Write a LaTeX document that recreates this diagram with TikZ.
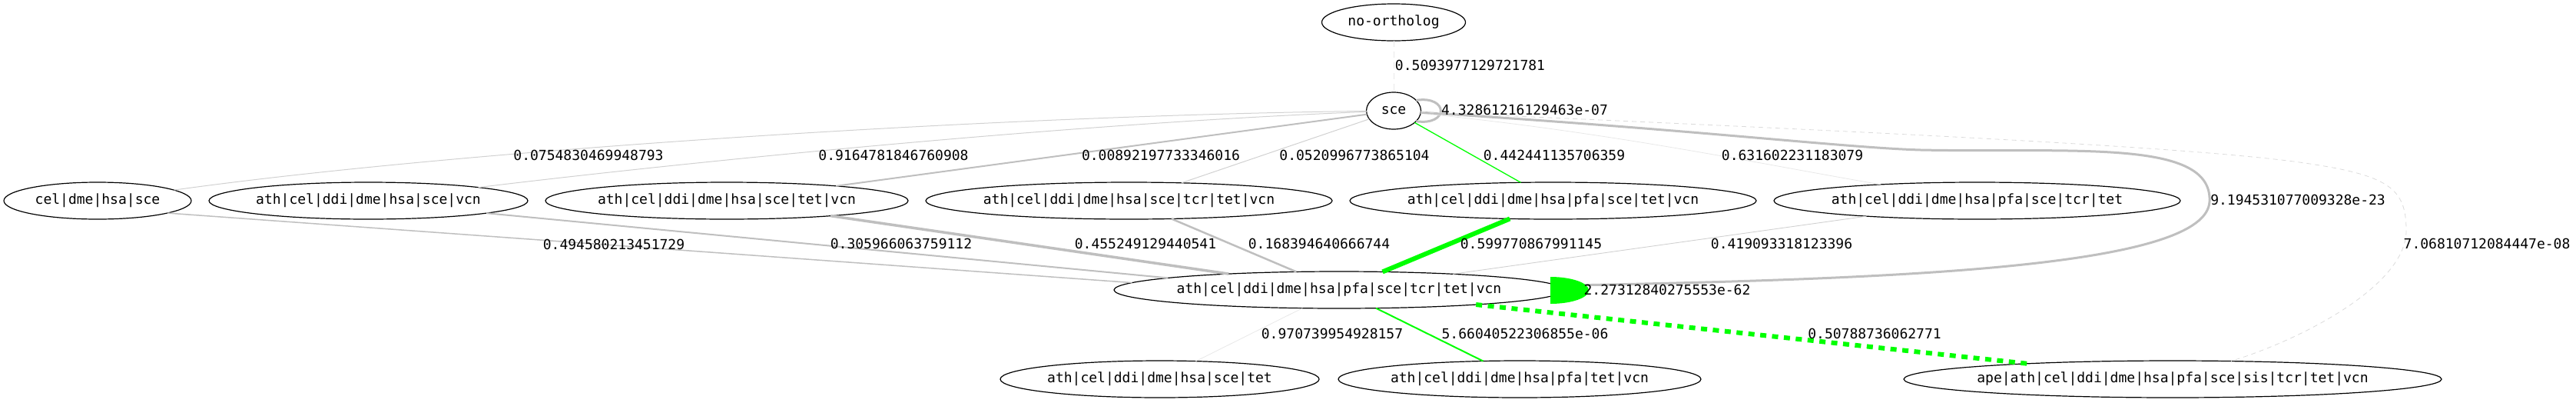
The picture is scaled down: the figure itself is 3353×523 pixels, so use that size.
\documentclass[tikz,border=0pt]{standalone}
\usepackage{fontspec}
\setmonofont{DejaVu Sans Mono}
\usetikzlibrary{shapes.geometric}
\definecolor{hitgreen}{HTML}{00FF00}

\begin{document}
\begin{tikzpicture}[x=1pt, y=-1pt,
    sp/.style={ellipse, draw, line width=1.2pt, inner xsep=-8pt, inner ysep=0pt,
        outer sep=0pt, minimum height=48pt, text height=13pt, text depth=3.5pt,
        font=\ttfamily\fontsize{18}{20}\selectfont},
    wt/.style={inner sep=0pt, font=\ttfamily\fontsize{18}{20}\selectfont},
    faint/.style={draw=black!9, line width=0.8pt},
    pale/.style={draw=black!18, line width=1pt},
    silver/.style={draw=black!25},
    hit/.style={draw=hitgreen}]
    \useasboundingbox (0,0) rectangle (3353,523);

    % species sets
    \node[sp, minimum width=187pt] (noorth) at (1814,29) {no-ortholog};
    \node[sp, minimum width=71pt] (sce) at (1814,144) {sce};

    \node[sp, minimum width=244pt] (cel) at (127,261) {cel|dme|hsa|sce};
    \node[sp, minimum width=415pt] (s7) at (479.5,261) {ath|cel|ddi|dme|hsa|sce|vcn};
    \node[sp, minimum width=472pt] (s8) at (946,261) {ath|cel|ddi|dme|hsa|sce|tet|vcn};
    \node[sp, minimum width=529pt] (s9a) at (1469.5,261) {ath|cel|ddi|dme|hsa|sce|tcr|tet|vcn};
    \node[sp, minimum width=529pt] (s9b) at (2021.5,261) {ath|cel|ddi|dme|hsa|pfa|sce|tet|vcn};
    \node[sp, minimum width=529pt] (s9c) at (2573.5,261) {ath|cel|ddi|dme|hsa|pfa|sce|tcr|tet};

    \node[sp, minimum width=586pt] (center) at (1743,377) {ath|cel|ddi|dme|hsa|pfa|sce|tcr|tet|vcn};

    \node[sp, minimum width=415pt] (b7) at (1509.5,493) {ath|cel|ddi|dme|hsa|sce|tet};
    \node[sp, minimum width=472pt] (b8) at (1978,493) {ath|cel|ddi|dme|hsa|pfa|tet|vcn};
    \node[sp, minimum width=700pt] (ape) at (2828,493) {ape|ath|cel|ddi|dme|hsa|pfa|sce|sis|tcr|tet|vcn};

    % edges from sce
    \draw[faint, dash pattern=on 8pt off 6pt] (noorth) -- (sce);
    \draw[silver, line width=3pt] (sce.25) .. controls (1886,124) and (1886,164) .. (sce.-25);
    \draw[pale] (sce) .. controls (1300,150) and (600,195) .. (cel);
    \draw[pale] (sce) .. controls (1400,160) and (900,210) .. (s7);
    \draw[silver, line width=2pt] (sce) -- (s8);
    \draw[pale] (sce) -- (s9a);
    \draw[hit, line width=1.3pt] (sce) -- (s9b);
    \draw[faint] (sce) .. controls (2100,172) and (2300,215) .. (s9c);
    \draw[silver, line width=3pt, shorten >=32pt] (sce) .. controls (2200,168) and (2400,192) .. (2500,195)
        .. controls (2700,199) and (2880,180) .. (2876,262)
        .. controls (2872,345) and (2500,362) .. (center);
    \fill[hitgreen] (2018,360) .. controls (2045.6,360) and (2068,367.8) .. (2068,377.5)
        .. controls (2068,387.2) and (2045.6,395) .. (2018,395) -- cycle;
    \draw[faint, draw=black!14, dash pattern=on 6pt off 5pt] (sce) .. controls (2400,170) and (2850,190) .. (3000,212)
        .. controls (3110,228) and (3132,245) .. (3132,300)
        .. controls (3132,370) and (3000,440) .. (ape);

    % edges into the centre set
    \draw[silver, line width=1.5pt] (cel.-10.7) -- (center.178.2);
    \draw[silver, line width=2pt] (s7.-6.7) -- (center.176.7);
    \draw[silver, line width=3.5pt] (s8) -- (center);
    \draw[silver, line width=2.5pt] (s9a) -- (center);
    \draw[hit, line width=6pt] (s9b) -- (center);
    \draw[pale, line width=0.9pt] (s9c) -- (center);

    % edges out of the centre set
    \draw[faint] (center) -- (b7);
    \draw[hit, line width=2pt] (center) -- (b8);
    \draw[hit, line width=6pt, dash pattern=on 8pt off 7.5pt] (center) -- (ape);

    % weights
    \node[wt] (w-noorth) at (1913.5,85) {0.5093977129721781};
    \node[wt] (w-loop) at (1984.5,143) {4.32861216129463e-07};
    \node[wt] (w-cel) at (766,202) {0.0754830469948793};
    \node[wt] (w-s7) at (1163,202) {0.9164781846760908};
    \node[wt] (w-s8) at (1511,202) {0.00892197733346016};
    \node[wt] (w-s9a) at (1763,202) {0.0520996773865104};
    \node[wt] (w-s9b) at (2023,202) {0.442441135706359};
    \node[wt] (w-s9c) at (2333,202) {0.631602231183079};
    \node[wt] (w-arc) at (2991,260) {9.194531077009328e-23};
    \node[wt] (w-cel-c) at (799,318) {0.494580213451729};
    \node[wt] (w-s7-c) at (1173,317) {0.305966063759112};
    \node[wt] (w-s8-c) at (1491,317) {0.455249129440541};
    \node[wt] (w-s9a-c) at (1717,317) {0.168394640666744};
    \node[wt] (w-s9b-c) at (1993,317) {0.599770867991145};
    \node[wt] (w-s9c-c) at (2319,317) {0.419093318123396};
    \node[wt] (w-ape-s) at (3237,317) {7.06810712084447e-08};
    \node[wt] (w-head) at (2170,377) {2.27312840275553e-62};
    \node[wt] (w-b7) at (1734,434) {0.970739954928157};
    \node[wt] (w-b8) at (1985,434) {5.66040522306855e-06};
    \node[wt] (w-ape) at (2440,434) {0.50788736062771};
\end{tikzpicture}
\end{document}
